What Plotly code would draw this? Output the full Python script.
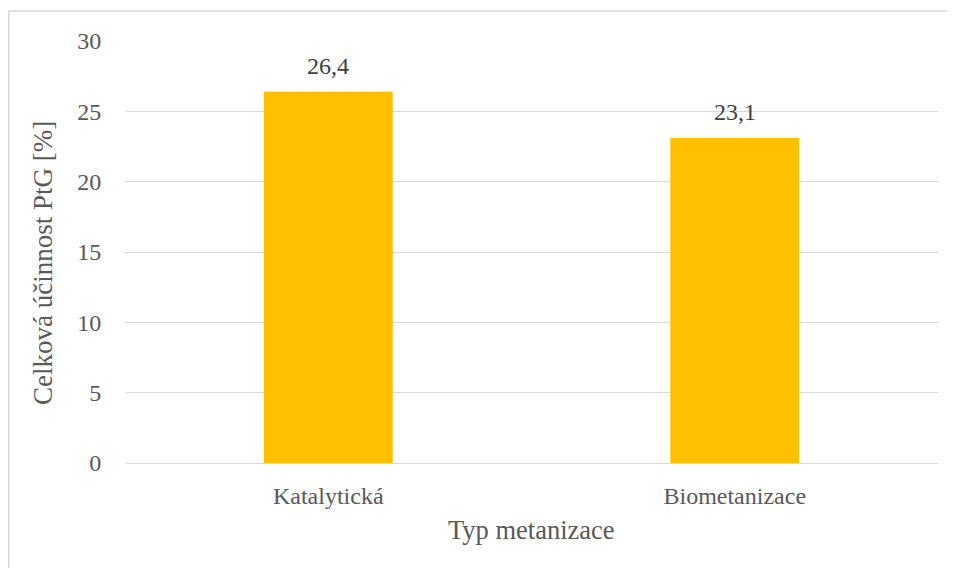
import plotly.graph_objects as go

categories = ["Katalytická", "Biometanizace"]
values = [26.4, 23.1]
y_ticks = [0, 5, 10, 15, 20, 25, 30]

FONT = "Liberation Serif"
# page body has an 8px margin; figure coordinates = screen - 8
W, H = 947, 560
L, R, T, B = 117, 17, 33, 105
pw, ph = W - L - R, H - T - B


def px_x(sx):
    return (sx - 8 - L) / pw


def px_y(sy):
    return (H - B - (sy - 8)) / ph


fig = go.Figure(go.Bar(
    x=categories, y=values,
    marker=dict(color="#FFC000", line=dict(width=0)),
    width=0.317,
    cliponaxis=False,
    hoverinfo="skip",
))

annotations = [
    dict(text=f"{v:.1f}".replace(".", ","), x=c, y=v, xref="x", yref="y",
         showarrow=False, yanchor="bottom", yshift=11,
         font=dict(family=FONT, size=24, color="#404040"))
    for c, v in zip(categories, values)
]
annotations += [
    dict(text="Celková účinnost PtG [%]", textangle=-90, showarrow=False,
         xref="paper", yref="paper", x=px_x(43), y=px_y(263),
         xanchor="center", yanchor="middle",
         font=dict(family=FONT, size=27, color="#595959")),
    dict(text="Typ metanizace", showarrow=False,
         xref="paper", yref="paper", x=px_x(531), y=px_y(530),
         xanchor="center", yanchor="middle",
         font=dict(family=FONT, size=26.5, color="#595959")),
]

fig.update_layout(
    width=W, height=H,
    margin=dict(l=L, r=R, t=T, b=B, autoexpand=False),
    paper_bgcolor="white", plot_bgcolor="white",
    showlegend=False,
    font=dict(family=FONT, size=24, color="#595959"),
    xaxis=dict(showgrid=False, showline=False, zeroline=False,
               ticks="outside", ticklen=11, tickcolor="rgba(0,0,0,0)",
               tickfont=dict(family=FONT, size=24, color="#595959")),
    yaxis=dict(range=[0, 30], tickvals=y_ticks, showgrid=True, gridcolor="#D9D9D9",
               gridwidth=1.3, zeroline=True, zerolinecolor="#D9D9D9", zerolinewidth=1.3,
               showline=False, ticks="outside", ticklen=18, tickcolor="rgba(0,0,0,0)",
               tickfont=dict(family=FONT, size=24, color="#595959")),
    annotations=annotations,
    shapes=[
        dict(type="rect", xref="paper", yref="paper",
             x0=(0.8 - L) / pw, x1=(W + 5 - L) / pw,
             y0=(H - B - (H + 5)) / ph, y1=(H - B - 3) / ph,
             line=dict(color="#D9D9D9", width=1.5), fillcolor="rgba(0,0,0,0)", layer="below"),
    ],
)

fig.write_html("out.html")
